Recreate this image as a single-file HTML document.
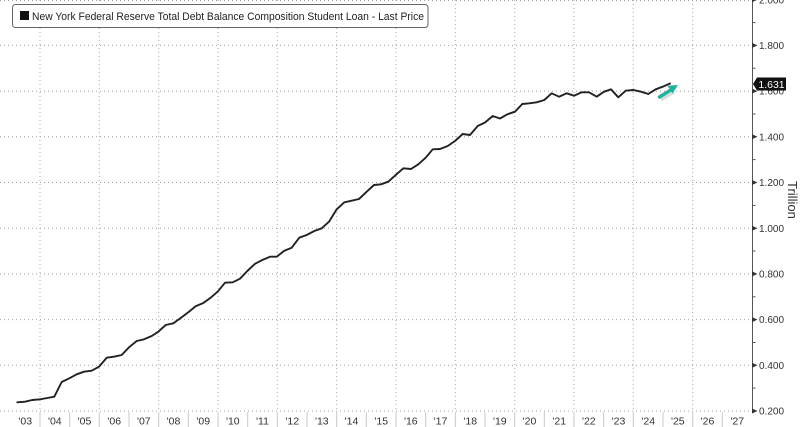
<!DOCTYPE html>
<html>
<head>
<meta charset="utf-8">
<style>
html,body{margin:0;padding:0;background:#fff;}
svg{display:block;}
text{font-family:"Liberation Sans","DejaVu Sans",sans-serif;}
</style>
</head>
<body>
<svg width="800" height="427" viewBox="0 0 800 427" xmlns="http://www.w3.org/2000/svg">
  <rect x="0" y="0" width="800" height="427" fill="#fff"/>
  <g stroke="#a0a0a0" stroke-width="1" stroke-dasharray="1 3">
    <line x1="0" y1="0.5" x2="752" y2="0.5"/>
    <line x1="0" y1="45.4" x2="752" y2="45.4"/>
    <line x1="0" y1="91.1" x2="752" y2="91.1"/>
    <line x1="0" y1="136.8" x2="752" y2="136.8"/>
    <line x1="0" y1="182.5" x2="752" y2="182.5"/>
    <line x1="0" y1="228.2" x2="752" y2="228.2"/>
    <line x1="0" y1="273.9" x2="752" y2="273.9"/>
    <line x1="0" y1="319.6" x2="752" y2="319.6"/>
    <line x1="0" y1="365.3" x2="752" y2="365.3"/>
    <line x1="0" y1="411" x2="752" y2="411"/>
  </g>
  <g stroke="#a8a8a8" stroke-width="1" stroke-dasharray="1 3">
    <line x1="40" y1="0" x2="40" y2="411"/>
    <line x1="99.3" y1="0" x2="99.3" y2="411"/>
    <line x1="158.7" y1="0" x2="158.7" y2="411"/>
    <line x1="218" y1="0" x2="218" y2="411"/>
    <line x1="277.3" y1="0" x2="277.3" y2="411"/>
    <line x1="336.7" y1="0" x2="336.7" y2="411"/>
    <line x1="396" y1="0" x2="396" y2="411"/>
    <line x1="455.3" y1="0" x2="455.3" y2="411"/>
    <line x1="514.7" y1="0" x2="514.7" y2="411"/>
    <line x1="574" y1="0" x2="574" y2="411"/>
    <line x1="633.3" y1="0" x2="633.3" y2="411"/>
    <line x1="692.7" y1="0" x2="692.7" y2="411"/>
  </g>
  <g stroke="#c8c8c8" stroke-width="1">
    <line x1="40" y1="412" x2="40" y2="427"/>
    <line x1="69.7" y1="412" x2="69.7" y2="427"/>
    <line x1="99.3" y1="412" x2="99.3" y2="427"/>
    <line x1="129" y1="412" x2="129" y2="427"/>
    <line x1="158.7" y1="412" x2="158.7" y2="427"/>
    <line x1="188.3" y1="412" x2="188.3" y2="427"/>
    <line x1="218" y1="412" x2="218" y2="427"/>
    <line x1="247.7" y1="412" x2="247.7" y2="427"/>
    <line x1="277.3" y1="412" x2="277.3" y2="427"/>
    <line x1="307" y1="412" x2="307" y2="427"/>
    <line x1="336.7" y1="412" x2="336.7" y2="427"/>
    <line x1="366.3" y1="412" x2="366.3" y2="427"/>
    <line x1="396" y1="412" x2="396" y2="427"/>
    <line x1="425.7" y1="412" x2="425.7" y2="427"/>
    <line x1="455.3" y1="412" x2="455.3" y2="427"/>
    <line x1="485" y1="412" x2="485" y2="427"/>
    <line x1="514.7" y1="412" x2="514.7" y2="427"/>
    <line x1="544.3" y1="412" x2="544.3" y2="427"/>
    <line x1="574" y1="412" x2="574" y2="427"/>
    <line x1="603.7" y1="412" x2="603.7" y2="427"/>
    <line x1="633.3" y1="412" x2="633.3" y2="427"/>
    <line x1="663" y1="412" x2="663" y2="427"/>
    <line x1="692.7" y1="412" x2="692.7" y2="427"/>
    <line x1="722.3" y1="412" x2="722.3" y2="427"/>
  </g>
  <g font-size="10.5" fill="#333" text-anchor="middle">
    <text x="25.2" y="424.5">'03</text>
    <text x="54.8" y="424.5">'04</text>
    <text x="84.5" y="424.5">'05</text>
    <text x="114.2" y="424.5">'06</text>
    <text x="143.8" y="424.5">'07</text>
    <text x="173.5" y="424.5">'08</text>
    <text x="203.2" y="424.5">'09</text>
    <text x="232.8" y="424.5">'10</text>
    <text x="262.5" y="424.5">'11</text>
    <text x="292.2" y="424.5">'12</text>
    <text x="321.8" y="424.5">'13</text>
    <text x="351.5" y="424.5">'14</text>
    <text x="381.2" y="424.5">'15</text>
    <text x="410.8" y="424.5">'16</text>
    <text x="440.5" y="424.5">'17</text>
    <text x="470.2" y="424.5">'18</text>
    <text x="499.8" y="424.5">'19</text>
    <text x="529.5" y="424.5">'20</text>
    <text x="559.2" y="424.5">'21</text>
    <text x="588.8" y="424.5">'22</text>
    <text x="618.5" y="424.5">'23</text>
    <text x="648.2" y="424.5">'24</text>
    <text x="677.8" y="424.5">'25</text>
    <text x="707.5" y="424.5">'26</text>
    <text x="737.2" y="424.5">'27</text>
  </g>
  <line x1="752.5" y1="0" x2="752.5" y2="412" stroke="#555" stroke-width="1"/>
  <g fill="#333">
    <polygon points="752,-2.8 757.5,-0.3 752,2.2"/>
    <polygon points="752,42.9 757.5,45.4 752,47.9"/>
    <polygon points="752,88.6 757.5,91.1 752,93.6"/>
    <polygon points="752,134.3 757.5,136.8 752,139.3"/>
    <polygon points="752,180 757.5,182.5 752,185"/>
    <polygon points="752,225.7 757.5,228.2 752,230.7"/>
    <polygon points="752,271.4 757.5,273.9 752,276.4"/>
    <polygon points="752,317.1 757.5,319.6 752,322.1"/>
    <polygon points="752,362.8 757.5,365.3 752,367.8"/>
    <polygon points="752,408.5 757.5,411 752,413.5"/>
  </g>
  <g stroke="#555" stroke-width="1">
    <line x1="752" y1="22.6" x2="755.5" y2="22.6"/>
    <line x1="752" y1="68.2" x2="755.5" y2="68.2"/>
    <line x1="752" y1="114" x2="755.5" y2="114"/>
    <line x1="752" y1="159.6" x2="755.5" y2="159.6"/>
    <line x1="752" y1="205.4" x2="755.5" y2="205.4"/>
    <line x1="752" y1="251" x2="755.5" y2="251"/>
    <line x1="752" y1="296.8" x2="755.5" y2="296.8"/>
    <line x1="752" y1="342.5" x2="755.5" y2="342.5"/>
    <line x1="752" y1="388.1" x2="755.5" y2="388.1"/>
  </g>
  <g font-size="10" fill="#333">
    <text x="759" y="3.3">2.000</text>
    <text x="759" y="49">1.800</text>
    <text x="759" y="94.7">1.600</text>
    <text x="759" y="140.4">1.400</text>
    <text x="759" y="186.1">1.200</text>
    <text x="759" y="231.8">1.000</text>
    <text x="759" y="277.5">0.800</text>
    <text x="759" y="323.2">0.600</text>
    <text x="759" y="368.9">0.400</text>
    <text x="759" y="414.6">0.200</text>
  </g>
  <text x="0" y="0" font-size="13" fill="#333" transform="translate(788,181) rotate(90)">Trillion</text>
  <polygon points="753,84 757,77.5 786,77.5 786,90.5 757,90.5" fill="#111"/>
  <text x="771.5" y="88" font-size="10.5" fill="#fff" text-anchor="middle">1.631</text>
  <polyline fill="none" stroke="#222" stroke-width="1.9" stroke-linejoin="round" stroke-linecap="round" points="
17.3,402.3 25,401.7 32.3,400 40,399.3 47.3,398 54.3,396.7 61.7,382 69.3,378.3 76.7,374.3 84,371.7
91.7,370.7 99,366.7 106.7,357.7 114,356.7 121.7,355 129,347.3 136.7,341 144,339.3 151.7,336 158.3,331.7
165.7,325 173.3,323.3 180.7,318 188.3,312.3 195.7,306.3 203.3,303 210.7,297.7 218,291.3 225,282.7 232.7,282.3
240,278.7 247.3,271 255,263.8 262.3,260 270,256.7 276.7,256.7 284.3,250.7 291.7,247.7 299.3,237.7 306.7,235
314.3,231 321.7,228.3 329,221.7 336.7,209.3 344.3,202.3 351.7,200.7 359,199 366.7,191.7 374,185 381,184.3
388.3,181.7 395.7,175 403.3,168.3 411,169 418.3,164.3 425.7,157.7 432.7,149.3 440,149 447.7,146 455,141
462.7,134 470,135 477.7,126 485,122.5 492.7,116 500,118.5 507.3,114.3 515,111.7 522.3,104 529.3,103.3
536.7,102.3 544.3,100 551.7,93.3 559,96.7 566.7,93.3 574,95.7 581.7,92.3 589,92.3 596.7,96.7 604,91.7
611,89.3 618.3,97.3 625.7,90.7 633.3,90 641,91.7 648.3,94 655.7,89.3 662.7,86.7 670,83.5"/>
  <g>
    <line x1="661" y1="99.5" x2="674" y2="91.5" stroke="#bbb" stroke-width="4" opacity="0.5"/>
    <line x1="659.5" y1="97" x2="671" y2="89.8" stroke="#1fb39e" stroke-width="3.5" stroke-linecap="round"/>
    <polygon points="678,85 667.5,85.8 672.5,93.5" fill="#1fb39e"/>
  </g>
  <rect x="12.5" y="4.5" width="415.5" height="23" rx="3" ry="3" fill="#fff" stroke="#666" stroke-width="1"/>
  <rect x="20" y="11" width="9" height="9" fill="#111"/>
  <text x="32" y="20" font-size="11" fill="#222" textLength="392" lengthAdjust="spacingAndGlyphs">New York Federal Reserve Total Debt Balance Composition Student Loan - Last Price</text>
</svg>
</body>
</html>
